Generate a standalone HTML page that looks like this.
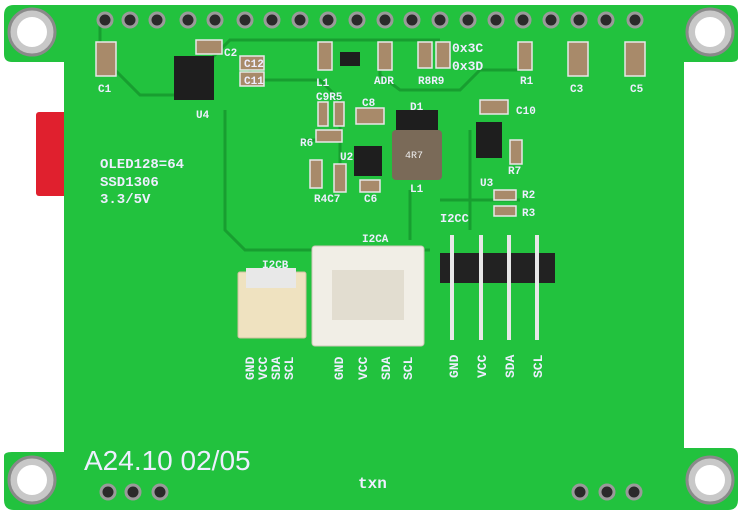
<!DOCTYPE html>
<html><head><style>body{margin:0;background:#fff}svg{display:block}</style></head><body>
<svg width="740" height="518" viewBox="0 0 740 518" xmlns="http://www.w3.org/2000/svg" font-family="Liberation Mono, monospace">
<rect width="740" height="518" fill="#fff"/>
<rect x="36" y="112" width="36" height="84" rx="3" fill="#e0202e"/>
<path d="M14 5 H728 Q738 5 738 15 V58 Q738 62 730 62 H684 V448 H730 Q738 448 738 456 V500 Q738 510 728 510 H14 Q4 510 4 500 V456 Q4 452 12 452 H64 V62 H12 Q4 62 4 54 V15 Q4 5 14 5 Z" fill="#22c23e"/>
<g fill="none" stroke="#189e30" stroke-width="3">
<path d="M100 25 V55 L140 95 H210 V60 L230 40 H440"/>
<path d="M225 110 V230 L245 250 H430"/>
<path d="M250 60 V80 H320 L340 100 V170"/>
<path d="M380 45 V75 L400 90 H460 L480 70 H520"/>
<path d="M410 190 V240"/><path d="M470 130 V230"/>
<path d="M300 140 H330"/><path d="M440 200 H520"/>
</g>
<g fill="#2a2a2a" stroke="#9a9a9a" stroke-width="3">
<circle cx="105" cy="20" r="7"/><circle cx="130" cy="20" r="7"/><circle cx="157" cy="20" r="7"/><circle cx="188" cy="20" r="7"/><circle cx="215" cy="20" r="7"/><circle cx="245" cy="20" r="7"/><circle cx="272" cy="20" r="7"/><circle cx="300" cy="20" r="7"/><circle cx="328" cy="20" r="7"/><circle cx="357" cy="20" r="7"/><circle cx="385" cy="20" r="7"/><circle cx="412" cy="20" r="7"/><circle cx="440" cy="20" r="7"/><circle cx="468" cy="20" r="7"/><circle cx="496" cy="20" r="7"/><circle cx="523" cy="20" r="7"/><circle cx="551" cy="20" r="7"/><circle cx="579" cy="20" r="7"/><circle cx="606" cy="20" r="7"/><circle cx="635" cy="20" r="7"/>
<circle cx="108" cy="492" r="7"/><circle cx="133" cy="492" r="7"/><circle cx="160" cy="492" r="7"/>
<circle cx="580" cy="492" r="7"/><circle cx="607" cy="492" r="7"/><circle cx="634" cy="492" r="7"/>
</g>
<g fill="#c8c8c8" stroke="#8a8a8a" stroke-width="3">
<circle cx="32" cy="32" r="23"/><circle cx="710" cy="32" r="23"/><circle cx="32" cy="480" r="23"/><circle cx="710" cy="480" r="23"/>
</g>
<g fill="#fff"><circle cx="32" cy="32" r="15"/><circle cx="710" cy="32" r="15"/><circle cx="32" cy="480" r="15"/><circle cx="710" cy="480" r="15"/></g>
<g fill="#a88a6a" stroke="#e8e8e8" stroke-width="1.5">
<rect x="96" y="42" width="20" height="34"/><rect x="196" y="40" width="26" height="14"/><rect x="240" y="56" width="24" height="14"/><rect x="240" y="72" width="24" height="14"/>
<rect x="318" y="42" width="14" height="28"/><rect x="378" y="42" width="14" height="28"/><rect x="418" y="42" width="14" height="26"/><rect x="436" y="42" width="14" height="26"/><rect x="518" y="42" width="14" height="28"/>
<rect x="568" y="42" width="20" height="34"/><rect x="625" y="42" width="20" height="34"/>
<rect x="356" y="108" width="28" height="16"/><rect x="480" y="100" width="28" height="14"/><rect x="510" y="140" width="12" height="24"/>
<rect x="316" y="130" width="26" height="12"/><rect x="310" y="160" width="12" height="28"/><rect x="334" y="164" width="12" height="28"/><rect x="360" y="180" width="20" height="12"/>
<rect x="494" y="190" width="22" height="10"/><rect x="494" y="206" width="22" height="10"/><rect x="318" y="102" width="10" height="24"/><rect x="334" y="102" width="10" height="24"/>
</g>
<g fill="#1e1e1e">
<rect x="174" y="56" width="40" height="44"/><rect x="340" y="52" width="20" height="14"/><rect x="354" y="146" width="28" height="30"/><rect x="476" y="122" width="26" height="36"/><rect x="396" y="110" width="42" height="22"/>
</g>
<rect x="392" y="130" width="50" height="50" rx="4" fill="#7a6a58"/>
<text x="405" y="158" font-size="10" fill="#eee">4R7</text>
<rect x="440" y="253" width="115" height="30" fill="#222"/>
<g stroke="#e8e8e8" stroke-width="4"><line x1="452" y1="235" x2="452" y2="340"/><line x1="481" y1="235" x2="481" y2="340"/><line x1="509" y1="235" x2="509" y2="340"/><line x1="537" y1="235" x2="537" y2="340"/></g>
<rect x="312" y="246" width="112" height="100" rx="3" fill="#f1eee6" stroke="#cfc8b8"/>
<rect x="332" y="270" width="72" height="50" fill="#e2ddd0"/>
<rect x="238" y="272" width="68" height="66" rx="2" fill="#efe2c0" stroke="#d0c0a0"/>
<rect x="246" y="268" width="50" height="20" fill="#e8e8e8"/>
<g fill="#eef" font-weight="bold">
<text x="100" y="168" font-size="14">OLED128=64</text><text x="100" y="186" font-size="14">SSD1306</text><text x="100" y="203" font-size="14">3.3/5V</text>
<text x="84" y="470" font-size="28" font-family="Liberation Sans, sans-serif" font-weight="normal">A24.10 02/05</text>
<text x="358" y="488" font-size="16">txn</text>
<text x="262" y="268" font-size="11">I2CB</text><text x="362" y="242" font-size="11">I2CA</text><text x="440" y="222" font-size="12">I2CC</text>
<text x="224" y="56" font-size="11">C2</text><text x="244" y="67" font-size="11">C12</text><text x="244" y="84" font-size="11">C11</text><text x="98" y="92" font-size="11">C1</text><text x="196" y="118" font-size="11">U4</text>
<text x="316" y="86" font-size="11">L1</text><text x="374" y="84" font-size="11">ADR</text><text x="418" y="84" font-size="11">R8R9</text><text x="452" y="52" font-size="13">0x3C</text><text x="452" y="70" font-size="13">0x3D</text><text x="520" y="84" font-size="11">R1</text><text x="570" y="92" font-size="11">C3</text><text x="630" y="92" font-size="11">C5</text>
<text x="316" y="100" font-size="11">C9R5</text><text x="362" y="106" font-size="11">C8</text><text x="410" y="110" font-size="11">D1</text><text x="516" y="114" font-size="11">C10</text><text x="300" y="146" font-size="11">R6</text><text x="340" y="160" font-size="11">U2</text><text x="314" y="202" font-size="11">R4C7</text><text x="364" y="202" font-size="11">C6</text><text x="410" y="192" font-size="11">L1</text><text x="480" y="186" font-size="11">U3</text><text x="508" y="174" font-size="11">R7</text><text x="522" y="198" font-size="11">R2</text><text x="522" y="216" font-size="11">R3</text>
</g>
<g fill="#eef" font-weight="bold" font-size="13">
<text transform="translate(254,380) rotate(-90)">GND</text><text transform="translate(267,380) rotate(-90)">VCC</text><text transform="translate(280,380) rotate(-90)">SDA</text><text transform="translate(293,380) rotate(-90)">SCL</text>
<text transform="translate(343,380) rotate(-90)">GND</text><text transform="translate(367,380) rotate(-90)">VCC</text><text transform="translate(390,380) rotate(-90)">SDA</text><text transform="translate(412,380) rotate(-90)">SCL</text>
<text transform="translate(458,378) rotate(-90)">GND</text><text transform="translate(486,378) rotate(-90)">VCC</text><text transform="translate(514,378) rotate(-90)">SDA</text><text transform="translate(542,378) rotate(-90)">SCL</text>
</g>
</svg>
</body></html>
